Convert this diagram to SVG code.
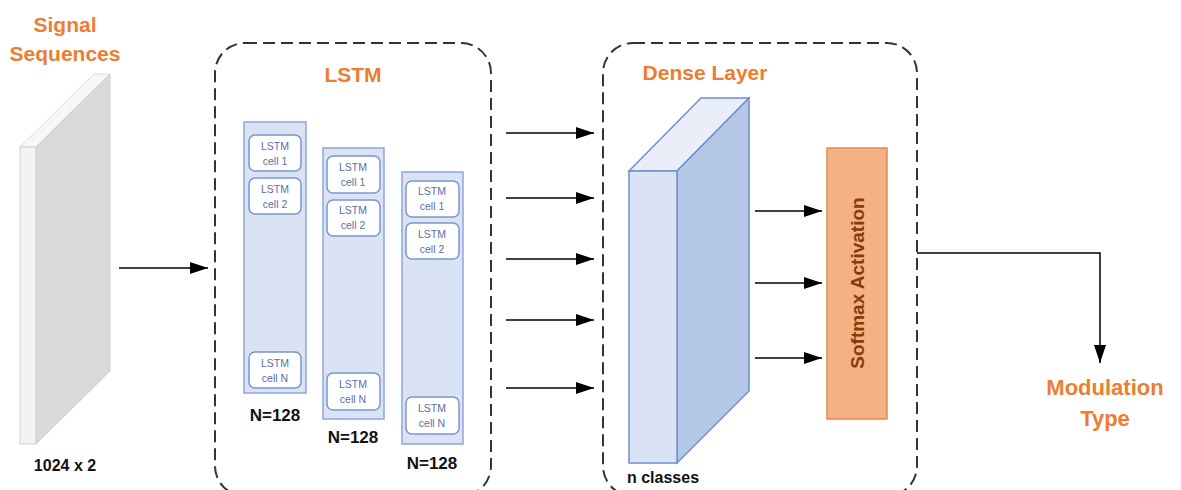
<svg xmlns="http://www.w3.org/2000/svg" width="1181" height="490" viewBox="0 0 1181 490">
<style>
.title{font-family:"Liberation Sans",Arial,sans-serif;font-weight:bold;font-size:21px;fill:#ED7D31;text-anchor:middle}
.lbl{font-family:"Liberation Sans",Arial,sans-serif;font-weight:bold;font-size:16px;fill:#111;text-anchor:middle}
.cell{fill:#fff;stroke:#7B95CF;stroke-width:1.5}
.col{fill:#DAE3F3;stroke:#8EA6D8;stroke-width:1.5}
.ctxt{font-family:"Liberation Sans",Arial,sans-serif;font-size:10.5px;fill:#5A6FA6;text-anchor:middle}
.dash{fill:none;stroke:#333;stroke-width:2;stroke-dasharray:12 6}
.arr{stroke:#000;stroke-width:1.5;fill:none;marker-end:url(#ah)}
</style>
<defs>
<marker id="ah" markerWidth="18" markerHeight="12" refX="18" refY="6" orient="auto" markerUnits="userSpaceOnUse">
<path d="M0,0 L18,6 L0,12 Z" fill="#000"/>
</marker>
</defs>
<rect width="1181" height="490" fill="#fff"/>

<g id="signal">
<text class="title" x="65" y="32">Signal</text>
<text class="title" x="65" y="61">Sequences</text>
<polygon points="20,147 36,147 110,74 94,74" fill="#F7F7F7" stroke="#DDD" stroke-width="1"/>
<polygon points="36,147 110,74 110,371 36,444" fill="#D9D9D9" stroke="#CFCFCF" stroke-width="1"/>
<rect x="20" y="147" width="16" height="297" fill="#F2F2F2" stroke="#D0D0D0" stroke-width="1"/>
<text class="lbl" x="65" y="471">1024 x 2</text>
</g>

<g id="lstm">
<rect class="dash" x="215" y="43" width="276" height="453" rx="30"/>
<text class="title" x="353" y="82">LSTM</text>
<g id="col1">
<rect class="col" x="244" y="122" width="62" height="271"/>
<rect class="cell" x="249" y="135" width="52" height="36" rx="6"/>
<text class="ctxt" x="275" y="150">LSTM</text><text class="ctxt" x="275" y="165">cell 1</text>
<rect class="cell" x="249" y="178" width="52" height="36" rx="6"/>
<text class="ctxt" x="275" y="193">LSTM</text><text class="ctxt" x="275" y="208">cell 2</text>
<rect class="cell" x="249" y="352" width="52" height="36" rx="6"/>
<text class="ctxt" x="275" y="367">LSTM</text><text class="ctxt" x="275" y="382">cell N</text>
<text class="lbl" x="275" y="421" style="font-size:17px">N=128</text>
</g>
<g id="col2">
<rect class="col" x="323" y="148" width="61" height="271"/>
<rect class="cell" x="327" y="156" width="53" height="37" rx="6"/>
<text class="ctxt" x="353" y="171">LSTM</text><text class="ctxt" x="353" y="186">cell 1</text>
<rect class="cell" x="327" y="200" width="53" height="36" rx="6"/>
<text class="ctxt" x="353" y="214">LSTM</text><text class="ctxt" x="353" y="229">cell 2</text>
<rect class="cell" x="327" y="373" width="53" height="37" rx="6"/>
<text class="ctxt" x="353" y="388">LSTM</text><text class="ctxt" x="353" y="403">cell N</text>
<text class="lbl" x="353" y="443" style="font-size:17px">N=128</text>
</g>
<g id="col3">
<rect class="col" x="402" y="172" width="61" height="272"/>
<rect class="cell" x="406" y="181" width="53" height="36" rx="6"/>
<text class="ctxt" x="432" y="195">LSTM</text><text class="ctxt" x="432" y="210">cell 1</text>
<rect class="cell" x="406" y="223" width="53" height="36" rx="6"/>
<text class="ctxt" x="432" y="238">LSTM</text><text class="ctxt" x="432" y="253">cell 2</text>
<rect class="cell" x="406" y="397" width="53" height="37" rx="6"/>
<text class="ctxt" x="432" y="412">LSTM</text><text class="ctxt" x="432" y="427">cell N</text>
<text class="lbl" x="432" y="469" style="font-size:17px">N=128</text>
</g>
</g>

<g id="dense">
<rect class="dash" x="603" y="43" width="314" height="453" rx="30"/>
<text class="title" x="705" y="80">Dense Layer</text>
<polygon points="629,171 677,171 749,98 701,98" fill="#E9EEF8" stroke="#6F8FCF" stroke-width="1.5"/>
<polygon points="677,171 749,98 749,391 677,463" fill="#B4C7E7" stroke="#6F8FCF" stroke-width="1.5"/>
<rect x="629" y="171" width="48" height="292" fill="#DAE3F3" stroke="#6F8FCF" stroke-width="1.5"/>
<text class="lbl" x="627" y="483" style="text-anchor:start">n classes</text>
</g>

<g id="softmax">
<rect x="827" y="148" width="60" height="271" fill="#F4B183" stroke="#E58A4E" stroke-width="1.5"/>
<text x="857" y="283" transform="rotate(-90 857 283)" dy="7" style="font-family:'Liberation Sans',Arial,sans-serif;font-weight:bold;font-size:19px;fill:#843C0C;text-anchor:middle">Softmax Activation</text>
</g>

<g id="output">
<text class="title" x="1105" y="395" style="font-size:22px">Modulation</text>
<text class="title" x="1105" y="426" style="font-size:22px">Type</text>
</g>

<g id="connectors">
<line class="arr" x1="119" y1="268" x2="208" y2="268"/>
<line class="arr" x1="506" y1="133" x2="594" y2="133"/>
<line class="arr" x1="506" y1="198" x2="594" y2="198"/>
<line class="arr" x1="506" y1="259" x2="594" y2="259"/>
<line class="arr" x1="506" y1="320" x2="594" y2="320"/>
<line class="arr" x1="506" y1="388" x2="594" y2="388"/>
<line class="arr" x1="755" y1="211" x2="822" y2="211"/>
<line class="arr" x1="755" y1="283" x2="822" y2="283"/>
<line class="arr" x1="755" y1="358" x2="822" y2="358"/>
<polyline class="arr" points="917,253 1100,253 1100,363"/>
</g>
</svg>
